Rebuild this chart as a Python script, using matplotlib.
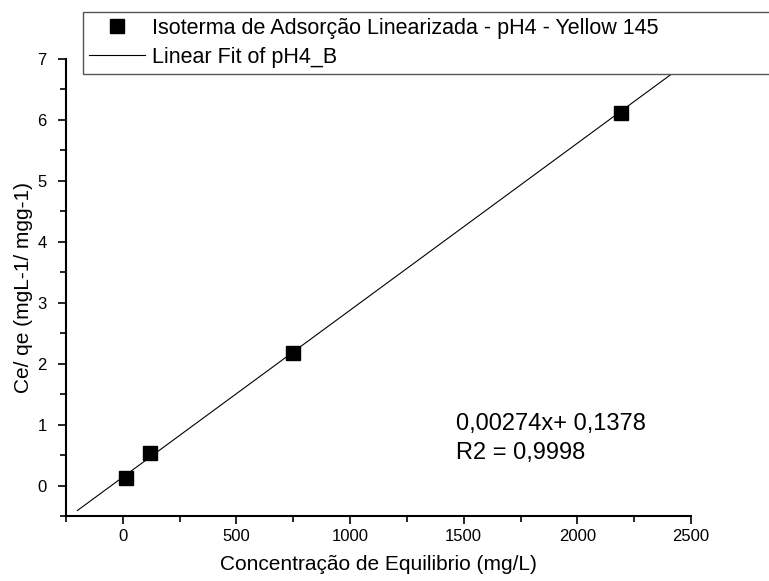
import numpy as np
import matplotlib
matplotlib.use("Agg")
import matplotlib.pyplot as plt
from matplotlib.ticker import MultipleLocator

plt.rcParams['font.family'] = ['Liberation Sans', 'DejaVu Sans']

# data
ce = [15, 120, 750, 2190]
ce_qe = [0.12, 0.53, 2.17, 6.12]
slope = 0.00274
intercept = 0.1378
fit_range = [-200, 2410]

fig = plt.figure(figsize=(7.69, 5.81), dpi=100)
ax = fig.add_axes([66/769, 65/581, 625/769, 457/581])

xf = np.array(fit_range)
ax.plot(xf, slope * xf + intercept, color='black', lw=0.8, label='Linear Fit of pH4_B')
ax.plot(ce, ce_qe, 's', color='black', ms=9.5, ls='none',
        label='Isoterma de Adsorção Linearizada - pH4 - Yellow 145')

ax.set_xlim(-250, 2500)
ax.set_ylim(-0.5, 7)
ax.xaxis.set_major_locator(MultipleLocator(500))
ax.xaxis.set_minor_locator(MultipleLocator(250))
ax.yaxis.set_major_locator(MultipleLocator(1))
ax.yaxis.set_minor_locator(MultipleLocator(0.5))
ax.spines['top'].set_visible(False)
ax.spines['right'].set_visible(False)
for s in ('left', 'bottom'):
    ax.spines[s].set_linewidth(1.5)
ax.tick_params(which='both', direction='out', width=1.2, labelsize=12)
ax.tick_params(which='major', length=6)
ax.tick_params(which='minor', length=4)
ax.tick_params(axis='y', pad=8)

ax.set_xlabel('Concentração de Equilibrio (mg/L)', fontsize=15, labelpad=8)
ax.set_ylabel('Ce/ qe (mgL-1/ mgg-1)', fontsize=15, labelpad=3)

ax.text(0.624, 0.225, '0,00274x+ 0,1378\nR2 = 0,9998', transform=ax.transAxes,
        fontsize=17, va='top', ha='left', linespacing=1.4)

h, l = ax.get_legend_handles_labels()
leg = fig.legend(h[::-1], l[::-1], loc='upper left', mode='expand',
                 bbox_to_anchor=(83/769, 1 - 75/581, 720/769, 63/581),
                 fontsize=15.5, frameon=True, fancybox=False, borderaxespad=0,
                 framealpha=1, handlelength=2.6, handletextpad=0.33,
                 labelspacing=0.38, borderpad=0.27)
leg.get_frame().set_edgecolor('#555555')
leg.get_frame().set_linewidth(1.0)

fig.savefig('out.png', dpi=100)
